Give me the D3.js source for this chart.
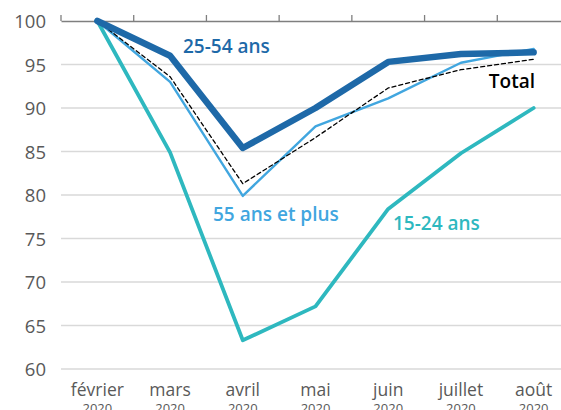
<!DOCTYPE html>
<html>
<head>
<meta charset="utf-8">
<style>
body { margin: 0; background: white; }
svg { font-family: "Open Sans", sans-serif; }
.grid line { stroke: #d9d9d9; stroke-width: 1.3px; }
.ylab { fill: #595959; font-size: 18.5px; }
.xlab { fill: #595959; font-size: 17.5px; }
.xyear { fill: #595959; font-size: 13px; }
</style>
</head>
<body>
<script src="https://cdn.jsdelivr.net/npm/d3@7"></script>
<script>
var width = 561,
    height = 410;

var months = ["février", "mars", "avril", "mai", "juin", "juillet", "août"];
var yTicks = [60, 65, 70, 75, 80, 85, 90, 95, 100];

var age2554 = [100, 96.0, 85.4, 90.0, 95.3, 96.2, 96.4];
var total = [100, 93.6, 81.3, 86.6, 92.3, 94.4, 95.6];
var age55 = [100, 93.0, 79.9, 87.9, 91.1, 95.2, 96.8];
var age1524 = [100, 84.9, 63.3, 67.2, 78.4, 84.8, 90.0];

var series = [
  { name: "55 ans et plus", values: age55, color: "#41a6df", width: 2.4, dash: null },
  { name: "Total", values: total, color: "#000000", width: 1.3, dash: "4,3" },
  { name: "15-24 ans", values: age1524, color: "#2eb8bf", width: 3.8, dash: null },
  { name: "25-54 ans", values: age2554, color: "#1e69a8", width: 6.5, dash: null }
];

var x = d3.scaleBand().domain(months).range([61, 570]);
var y = d3.scaleLinear().domain([60, 100]).range([369, 21]);

var svg = d3.select("body").append("svg")
    .attr("width", width)
    .attr("height", height);

// grid
svg.append("g").attr("class", "grid")
  .selectAll("line")
  .data(yTicks.filter(function(d) { return d < 100; }))
  .enter().append("line")
  .attr("x1", 61).attr("x2", width)
  .attr("y1", function(d) { return y(d); })
  .attr("y2", function(d) { return y(d); });

// y labels
svg.append("g")
  .selectAll("text")
  .data(yTicks)
  .enter().append("text")
  .attr("class", "ylab")
  .attr("x", 46)
  .attr("y", function(d) { return y(d) + 7; })
  .attr("text-anchor", "end")
  .text(function(d) { return d; });

// top axis (the 100 line) with ticks between months
var axis = d3.axisTop(x).tickSize(0).tickFormat("");
svg.append("g")
  .attr("transform", "translate(0," + y(100) + ")")
  .call(axis)
  .call(function(g) {
    g.select(".domain").attr("stroke", "#7f7f7f").attr("stroke-width", 1.3);
  });
var bounds = months.map(function(m) { return x(m); });
svg.append("g").selectAll("line")
  .data(bounds)
  .enter().append("line")
  .attr("x1", function(d) { return d; }).attr("x2", function(d) { return d; })
  .attr("y1", y(100) - 6).attr("y2", y(100))
  .attr("stroke", "#7f7f7f").attr("stroke-width", 1.3);

// x labels
var xl = svg.append("g").selectAll("g")
  .data(months)
  .enter().append("g")
  .attr("transform", function(d) { return "translate(" + (x(d) + x.bandwidth() / 2) + ",0)"; });
xl.append("text").attr("class", "xlab")
  .attr("y", 396).attr("text-anchor", "middle")
  .text(function(d) { return d; });
xl.append("text").attr("class", "xyear")
  .attr("y", 413).attr("text-anchor", "middle")
  .text("2020");

// lines
var line = d3.line()
  .x(function(d, i) { return x(months[i]) + x.bandwidth() / 2; })
  .y(function(d) { return y(d); });

svg.append("g").selectAll("path")
  .data(series)
  .enter().append("path")
  .attr("d", function(d) { return line(d.values); })
  .attr("fill", "none")
  .attr("stroke", function(d) { return d.color; })
  .attr("stroke-width", function(d) { return d.width; })
  .attr("stroke-dasharray", function(d) { return d.dash; })
  .attr("stroke-linejoin", "round")
  .attr("stroke-linecap", "round");

// series labels
var labels = [
  { text: "25-54 ans", x: 183, y: 53, color: "#1e69a8", anchor: "start" },
  { text: "Total", x: 535, y: 88, color: "#000000", anchor: "end" },
  { text: "55 ans et plus", x: 213, y: 221, color: "#41a6df", anchor: "start" },
  { text: "15-24 ans", x: 393, y: 230, color: "#2eb8bf", anchor: "start" }
];
svg.append("g").selectAll("text")
  .data(labels)
  .enter().append("text")
  .attr("x", function(d) { return d.x; })
  .attr("y", function(d) { return d.y; })
  .attr("text-anchor", function(d) { return d.anchor; })
  .attr("fill", function(d) { return d.color; })
  .attr("font-size", "19px")
  .attr("font-weight", 600)
  .text(function(d) { return d.text; });
</script>
</body>
</html>
